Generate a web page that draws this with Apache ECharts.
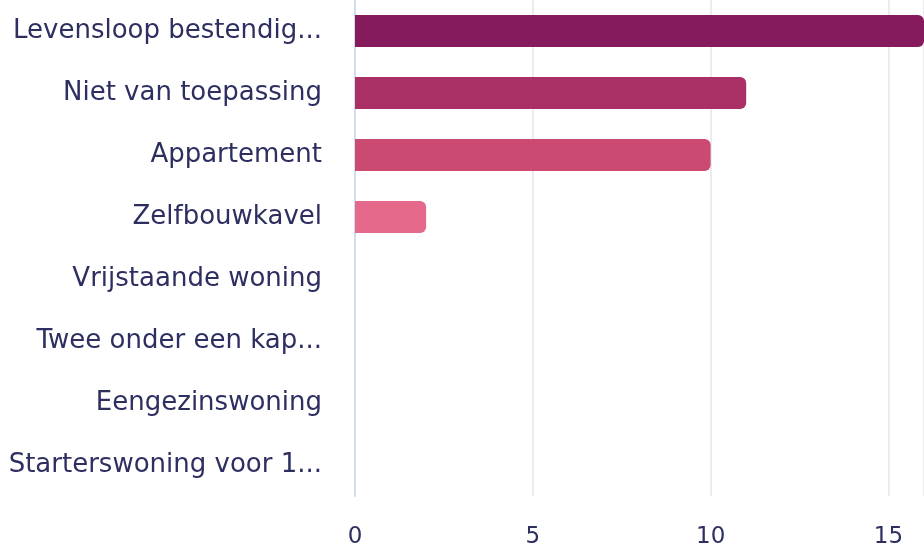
<!DOCTYPE html>
<html>
<head>
<meta charset="utf-8">
<script src="https://cdn.jsdelivr.net/npm/echarts@6/dist/echarts.min.js"></script>
<style>
html,body{margin:0;padding:0;background:#fff;}
#chart{width:924px;height:549px;}
</style>
</head>
<body>
<div id="chart"></div>
<script>
const categories = [
  "Levensloop bestendig...",
  "Niet van toepassing",
  "Appartement",
  "Zelfbouwkavel",
  "Vrijstaande woning",
  "Twee onder een kap...",
  "Eengezinswoning",
  "Starterswoning voor 1..."
];
const values = [16, 11, 10, 2, 0, 0, 0, 0];
const barColors = ["#851a5c", "#a92f65", "#cb4a72", "#e4698a", "#ef8aa2", "#f5a7b9", "#f9c3cf", "#fcdde4"];
const xTicks = [0, 5, 10, 15];

const chart = echarts.init(document.getElementById('chart'), null, {renderer: 'canvas'});
const textColor = '#2d2f60';
const fontFamily = '"DejaVu Sans", sans-serif';

chart.setOption({
  animation: false,
  backgroundColor: '#ffffff',
  grid: { left: 355, right: -3, top: -4, height: 502, containLabel: false },
  xAxis: {
    type: 'value',
    min: 0,
    max: 16,
    interval: 5,
    axisLine: { show: false },
    axisTick: { show: false },
    splitLine: { show: true, lineStyle: { color: '#e6e6ea', width: 1.5 } },
    axisLabel: {
      color: textColor,
      fontFamily: fontFamily,
      fontSize: 23,
      margin: 30,
      showMaxLabel: false,
      formatter: function (v) { return xTicks.indexOf(v) >= 0 ? String(v) : ''; }
    }
  },
  yAxis: {
    type: 'category',
    inverse: true,
    data: categories,
    axisLine: { show: true, lineStyle: { color: '#d5dcef', width: 2 } },
    axisTick: { show: false },
    axisLabel: {
      color: textColor,
      fontFamily: fontFamily,
      fontSize: 26,
      margin: 33,
      padding: [5, 0, 0, 0]
    }
  },
  series: [{
    type: 'bar',
    barWidth: 32,
    data: values.map(function (v, i) {
      return { value: v, itemStyle: { color: barColors[i] } };
    }),
    itemStyle: { borderRadius: [0, 6, 6, 0] }
  }]
});
</script>
</body>
</html>
